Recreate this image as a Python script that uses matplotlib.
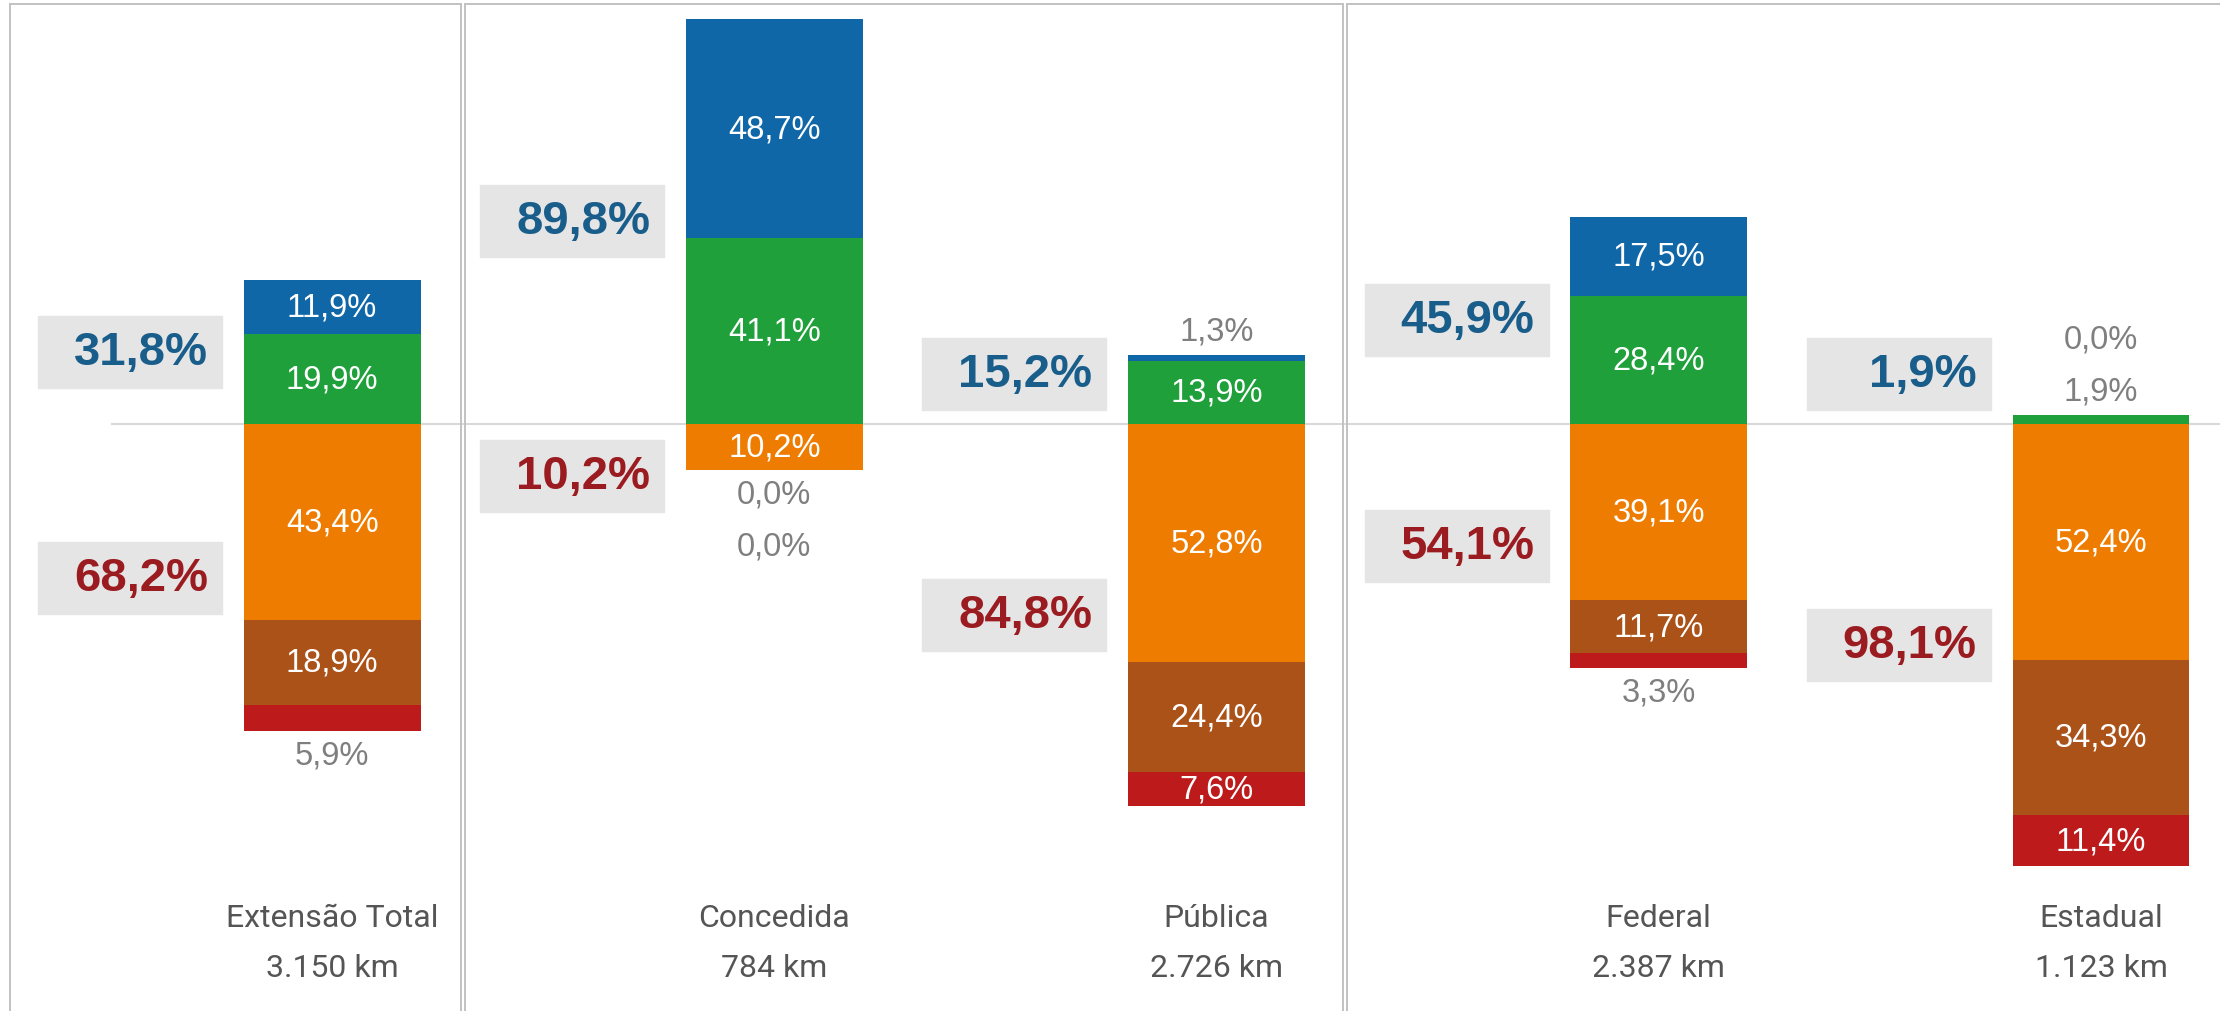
import matplotlib
matplotlib.use("Agg")
import matplotlib.pyplot as plt
from matplotlib.patches import Rectangle
from matplotlib.lines import Line2D
import matplotlib.transforms as mtransforms

# data
categories = ["Extensão Total", "Concedida", "Pública", "Federal", "Estadual"]
extensions = ["3.150 km", "784 km", "2.726 km", "2.387 km", "1.123 km"]
otimo = [11.9, 48.7, 1.3, 17.5, 0.0]      # blue
bom = [19.9, 41.1, 13.9, 28.4, 1.9]       # green
regular = [43.4, 10.2, 52.8, 39.1, 52.4]  # orange
ruim = [18.9, 0.0, 24.4, 11.7, 34.3]      # brown
pessimo = [5.9, 0.0, 7.6, 3.3, 11.4]      # red
total_pos = [31.8, 89.8, 15.2, 45.9, 1.9]
total_neg = [68.2, 10.2, 84.8, 54.1, 98.1]

C_BLUE = "#1067a8"
C_GREEN = "#1fa03a"
C_ORANGE = "#ee7c00"
C_BROWN = "#ab5219"
C_RED = "#bd1a1b"
C_BIGBLUE = "#195d8b"
C_BIGRED = "#9a1b20"
C_BOX = "#e5e5e5"
C_GRAYTXT = "#7f7f7f"
C_CAT = "#555555"

W, H = 2220, 1012
fig = plt.figure(figsize=(W / 100, H / 100), dpi=100)
ax = fig.add_axes([0, 0, 1, 1])
ax.axis("off")
ax.set_xlim(-0.751, 4.269)
ax.set_ylim(-130.2, 94.2)


def fmt(v):
    return f"{v:.1f}".replace(".", ",") + "%"


# panel frames (pixel positions)
panels = [(10, 461), (465, 1343), (1347, W + 5)]
ytop = 1 - 5 / H
for x0, x1 in panels:
    for xx in (x0, x1):
        fig.add_artist(Line2D([xx / W, xx / W], [0, ytop], transform=fig.transFigure,
                              color="#c2c2c2", lw=1.4))
    fig.add_artist(Line2D([x0 / W, x1 / W], [ytop, ytop], transform=fig.transFigure,
                          color="#c2c2c2", lw=1.4))

# zero line
ax.axhline(0, xmin=112 / W, xmax=1, color="#d9d9d9", lw=1.5, zorder=1)

bw = 0.4
x = list(range(len(categories)))
pos_series = [(bom, C_GREEN), (otimo, C_BLUE)]
neg_series = [(regular, C_ORANGE), (ruim, C_BROWN), (pessimo, C_RED)]
lab_font = ["Liberation Sans", "DejaVu Sans"]
seg_fs = 23.5

for i in x:
    # positive stack
    base = 0.0
    outside = 0
    for vals, col in pos_series:
        v = vals[i]
        ax.bar(i, v, bw, bottom=base, color=col, zorder=2)
        if v >= 7:
            ax.text(i, base + v / 2, fmt(v), ha="center", va="center", color="white",
                    fontsize=seg_fs, family=lab_font, zorder=3)
        else:
            ax.text(i, total_pos[i] + 5.3 + outside * 11.6, fmt(v), ha="center", va="center",
                    color=C_GRAYTXT, fontsize=seg_fs, family=lab_font, zorder=3)
            outside += 1
        base += v
    # negative stack
    base = 0.0
    outside = 0
    for vals, col in neg_series:
        v = vals[i]
        ax.bar(i, -v, bw, bottom=base, color=col, zorder=2)
        if v >= 7:
            ax.text(i, base - v / 2, fmt(v), ha="center", va="center", color="white",
                    fontsize=seg_fs, family=lab_font, zorder=3)
        else:
            ax.text(i, -total_neg[i] - 5.3 - outside * 11.6, fmt(v), ha="center", va="center",
                    color=C_GRAYTXT, fontsize=seg_fs, family=lab_font, zorder=3)
            outside += 1
        base -= v

    # summary boxes
    bx1 = i - bw / 2 - 0.049
    bw_box = 0.416
    bh = 16.0
    for yc, txt, col in [(max(total_pos[i] / 2, 11), fmt(total_pos[i]), C_BIGBLUE),
                         (-max(total_neg[i] / 2, 11.5), fmt(total_neg[i]), C_BIGRED)]:
        ax.add_patch(Rectangle((bx1 - bw_box, yc - bh / 2), bw_box, bh, color=C_BOX, zorder=2))
        ax.text(bx1 - 0.032, yc, txt, ha="right", va="center", color=col, fontsize=34,
                fontweight="bold", family=lab_font, zorder=3)

    # category labels
    trans = mtransforms.blended_transform_factory(ax.transData, ax.transAxes)
    ax.text(i, 1 - 919 / H, categories[i], transform=trans, ha="center", va="center",
            color=C_CAT, fontsize=23, family=["Roboto", "DejaVu Sans"])
    ax.text(i, 1 - 969 / H, extensions[i], transform=trans, ha="center", va="center",
            color=C_CAT, fontsize=23, family=["Roboto", "DejaVu Sans"])

fig.savefig("out.png", dpi=100, facecolor="white")
